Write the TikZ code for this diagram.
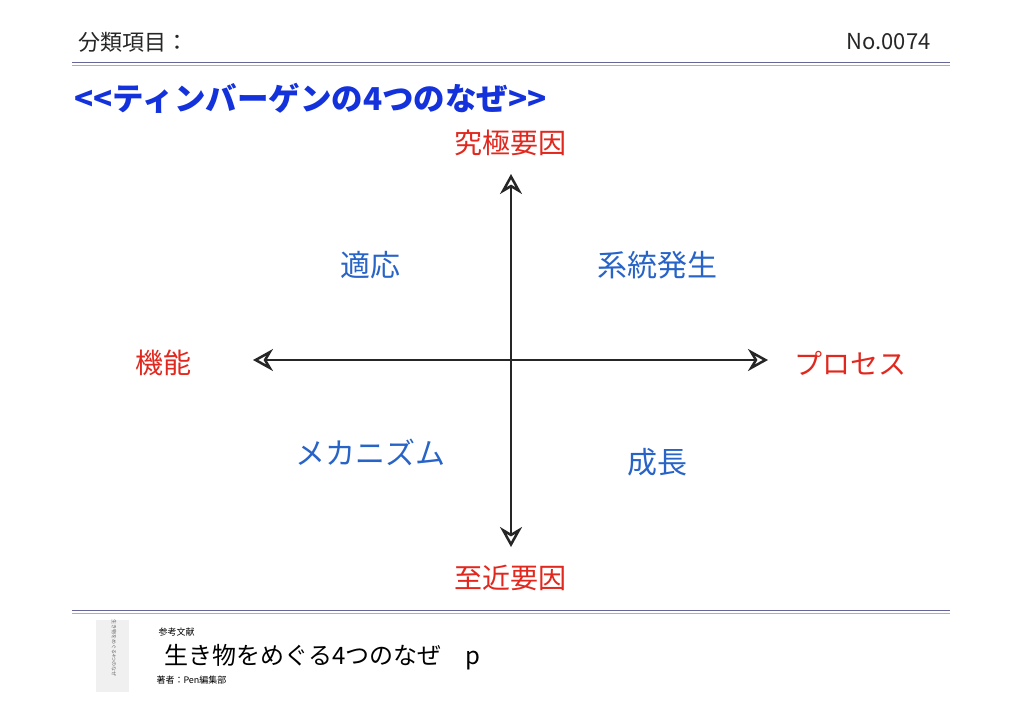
\documentclass[tikz,border=0pt]{standalone}
\usepackage{fontspec}
\newfontfamily\cjk{Noto Sans CJK JP}
\usetikzlibrary{arrows.meta}
\definecolor{tblue}{RGB}{20,50,220}
\definecolor{lblue}{RGB}{40,100,200}
\definecolor{lred}{RGB}{225,40,30}
\tikzset{
 hd/.style={font=\cjk\fontsize{22}{22}\selectfont, text=black!85},
 red/.style={font=\cjk\fontsize{28}{28}\selectfont, text=lred},
 blu/.style={font=\cjk\fontsize{30}{30}\selectfont, text=lblue},
 ax/.style={line width=2.8pt, black!85, {Stealth[length=20pt,width=22pt,open,line width=2.5pt]}-{Stealth[length=20pt,width=22pt,open,line width=2.5pt]}}
}
\begin{document}
\begin{tikzpicture}[x=1pt,y=-1pt]
\useasboundingbox (0,0) rectangle (1024,724);
\fill[white] (0,0) rectangle (1024,724);
\node[hd,anchor=west] (h1) at (75,42) {分類項目：};
\node[hd,anchor=east] (h2) at (934,42) {No.0074};
\draw[gray!80!blue,line width=1pt] (72,62) -- (950,62);
\draw[violet!40,line width=1pt] (72,65) -- (950,65);
\node[anchor=west,font=\cjk\bfseries\fontsize{31.5}{31.5}\selectfont,text=tblue] (t) at (71,98) {<{}<ティンバーゲンの4つのなぜ>{}>};
\coordinate (T) at (511,174); \coordinate (B) at (511,547);
\coordinate (L) at (253,360); \coordinate (R) at (768,360);
\draw[ax] (T) -- (B);
\draw[ax] (L) -- (R);
\node[red] (n1) at (510,143) {究極要因};
\node[red] (n2) at (510,578) {至近要因};
\node[red] (n3) at (163,363) {機能};
\node[red] (n4) at (850,363) {プロセス};
\node[blu] (q1) at (370,265) {適応};
\node[blu] (q2) at (657,265) {系統発生};
\node[blu] (q3) at (370,452) {メカニズム};
\node[blu] (q4) at (657,462) {成長};
\draw[gray!80!blue,line width=1pt] (72,610) -- (950,610);
\draw[violet!40,line width=1pt] (72,613) -- (950,613);
\fill[gray!12] (96,620) rectangle (129,692);
\node[font=\cjk\fontsize{5}{5}\selectfont,text=black!60,align=center] (bk) at (114,648) {\rotatebox{-90}{生き物をめぐる4つのなぜ}};
\node[anchor=west,font=\cjk\fontsize{9}{9}\selectfont] (f1) at (155,632) {参考文献};
\node[anchor=west,font=\cjk\fontsize{24}{24}\selectfont] (f2) at (161,657) {生き物をめぐる4つのなぜ\quad p};
\node[anchor=west,font=\cjk\fontsize{9}{9}\selectfont] (f3) at (153,680) {著者：Pen編集部};
\end{tikzpicture}
\end{document}
